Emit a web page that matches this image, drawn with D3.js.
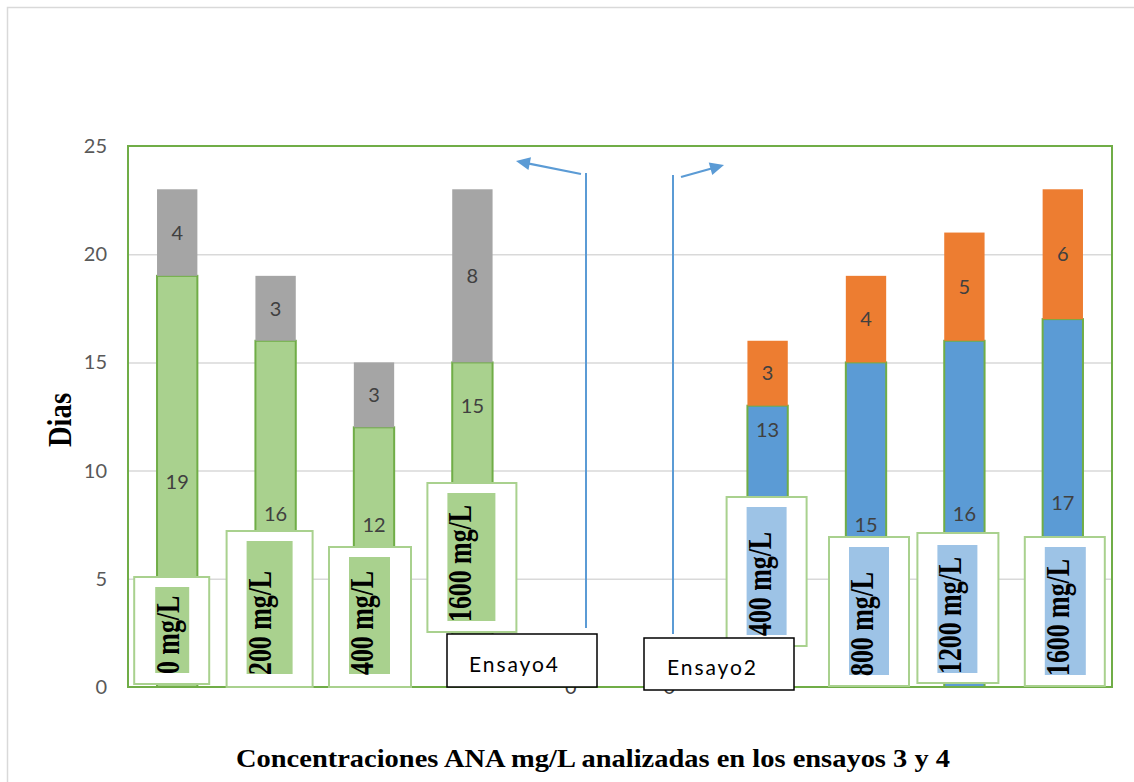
<!DOCTYPE html>
<html>
<head>
<meta charset="utf-8">
<script src="https://cdn.jsdelivr.net/npm/d3@7/dist/d3.min.js"></script>
<style>
  html, body { margin: 0; padding: 0; background: #fff; }
  svg { display: block; }
</style>
</head>
<body>
<svg id="chart" width="1134" height="782"></svg>
<script>
// ---------------- DATA ----------------
const categories = ["0 mg/L", "200 mg/L", "400 mg/L", "1600 mg/L", "gapA", "gapB",
                    "400 mg/L", "800 mg/L", "1200 mg/L", "1600 mg/L"];
const groups     = ["E3", "E3", "E3", "E3", "gap", "gap", "E4", "E4", "E4", "E4"];
const baseValues = [19, 16, 12, 15, 0, 0, 13, 15, 16, 17];
const topValues  = [4, 3, 3, 8, null, null, 3, 4, 5, 6];
const yTicks     = [0, 5, 10, 15, 20, 25];
const boxLabels  = ["0 mg/L", "200 mg/L", "400 mg/L", "1600 mg/L", null, null,
                    "400 mg/L", "800 mg/L", "1200 mg/L", "1600 mg/L"];
const annotationTexts = ["Ensayo4", "Ensayo2"];
const yTitle = "Dias";
const xTitle = "Concentraciones ANA mg/L analizadas en los ensayos  3 y 4";

// ---------------- LAYOUT (annotation placement only) ----------------
const plot = { left: 128, right: 1112, top: 146, bottom: 687 };
const boxLayout = {
  0: { ox0: -43, ox1: 32, ix0: -22, ix1: 12, oy0: 577, oy1: 684, iy0: 587, iy1: 673 },
  1: { ox0: -49, ox1: 37, ix0: -29, ix1: 17, oy0: 531, oy1: 687, iy0: 541, iy1: 674 },
  2: { ox0: -45, ox1: 37, ix0: -25, ix1: 16, oy0: 547, oy1: 687, iy0: 557, iy1: 674 },
  3: { ox0: -45, ox1: 44, ix0: -25, ix1: 23, oy0: 483, oy1: 632, iy0: 493, iy1: 621 },
  6: { ox0: -41, ox1: 39, ix0: -21, ix1: 19, oy0: 497, oy1: 646, iy0: 507, iy1: 635 },
  7: { ox0: -37, ox1: 43, ix0: -17, ix1: 23, oy0: 537, oy1: 686, iy0: 547, iy1: 675 },
  8: { ox0: -47, ox1: 34, ix0: -27, ix1: 13, oy0: 533, oy1: 683, iy0: 545, iy1: 673 },
  9: { ox0: -38, ox1: 42, ix0: -18, ix1: 23, oy0: 537, oy1: 686, iy0: 547, iy1: 675 }
};
const labelMoved = { 2: 7.5, 3: 13.0, 6: 11.9 };

const colors = {
  E3base: "#A9D18E", E3top: "#A5A5A5",
  E4base: "#5B9BD5", E4top: "#ED7D31",
  barStroke: "#70AD47", boxStroke: "#A9D18E",
  innerE3: "#A9D18E", innerE4: "#9DC3E6",
  grid: "#D9D9D9", arrow: "#5B9BD5"
};

// ---------------- SCALES ----------------
const svg = d3.select("#chart");
const x = d3.scaleBand().domain(d3.range(categories.length))
  .range([plot.left, plot.right]).paddingInner(0.59).paddingOuter(0.295);
const y = d3.scaleLinear().domain([0, 25]).range([plot.bottom, plot.top]);
const cx = i => x(i) + x.bandwidth() / 2;

// outer chart frame
svg.append("rect").attr("x", 7.5).attr("y", 7.5).attr("width", 1140).attr("height", 800)
  .attr("fill", "none").attr("stroke", "#D9D9D9").attr("stroke-width", 1.5);

// gridlines
svg.append("g")
  .attr("transform", `translate(${plot.left},0)`)
  .call(d3.axisLeft(y).tickValues(yTicks.filter(t => t > 0 && t < 25))
        .tickSize(-(plot.right - plot.left)).tickFormat(""))
  .call(g => g.select(".domain").remove())
  .call(g => g.selectAll("line").attr("stroke", colors.grid).attr("stroke-width", 1.5));

// y axis labels
svg.append("g")
  .attr("transform", `translate(${plot.left},0)`)
  .call(d3.axisLeft(y).tickValues(yTicks).tickSize(0).tickPadding(21))
  .call(g => g.select(".domain").remove())
  .call(g => g.selectAll("text").attr("fill", "#595959")
        .style("font-family", "Lato, 'Open Sans', sans-serif").style("font-size", "20px"));

// stacked bars
const rows = categories.map((c, i) => ({ i, base: baseValues[i] || 0, top: topValues[i] || 0, group: groups[i] }));
const stack = d3.stack().keys(["base", "top"])(rows);

const barsG = svg.append("g");
stack.forEach(layer => {
  barsG.selectAll(null)
    .data(layer.filter(d => d.data.group !== "gap" && d[1] > d[0]))
    .join("rect")
    .attr("x", d => x(d.data.i))
    .attr("width", x.bandwidth())
    .attr("y", d => y(d[1]))
    .attr("height", d => y(d[0]) - y(d[1]))
    .attr("fill", d => colors[d.data.group + layer.key])
    .attr("stroke", layer.key === "base" ? colors.barStroke : "none")
    .attr("stroke-width", 2);
});

// plot border
svg.append("rect")
  .attr("x", plot.left).attr("y", plot.top)
  .attr("width", plot.right - plot.left).attr("height", plot.bottom - plot.top)
  .attr("fill", "none").attr("stroke", colors.barStroke).attr("stroke-width", 2);

// value labels
const labelFont = "Lato, 'Open Sans', sans-serif";
const labG = svg.append("g").style("font-family", labelFont).style("font-size", "20px")
  .attr("fill", "#404040").attr("text-anchor", "middle");
stack.forEach(layer => {
  labG.selectAll(null)
    .data(layer.filter(d => layer.key === "base" || topValues[d.data.i] !== null))
    .join("text")
    .attr("x", d => cx(d.data.i))
    .attr("y", d => {
      if (layer.key === "base" && labelMoved[d.data.i] !== undefined) return y(labelMoved[d.data.i]);
      return y((d[0] + d[1]) / 2);
    })
    .attr("dy", "0.36em")
    .text(d => layer.key === "base" ? baseValues[d.data.i] : topValues[d.data.i]);
});

// category label boxes
const boxG = svg.append("g");
boxLabels.forEach((lab, i) => {
  if (!lab) return;
  const b = boxLayout[i];
  const c = cx(i);
  boxG.append("rect")
    .attr("x", c + b.ox0).attr("y", b.oy0)
    .attr("width", b.ox1 - b.ox0).attr("height", b.oy1 - b.oy0)
    .attr("fill", "#fff").attr("stroke", colors.boxStroke).attr("stroke-width", 2);
  boxG.append("rect")
    .attr("x", c + b.ix0).attr("y", b.iy0)
    .attr("width", b.ix1 - b.ix0).attr("height", b.iy1 - b.iy0)
    .attr("fill", groups[i] === "E3" ? colors.innerE3 : colors.innerE4);
  boxG.append("text")
    .attr("transform", `translate(${c + b.ix0 + 24},${b.iy1 + 1}) rotate(-90) scale(0.76,1)`)
    .style("font-family", "'Liberation Serif', 'Times New Roman', serif")
    .style("font-weight", "bold").style("font-size", "34px")
    .attr("fill", "#000")
    .text(lab);
});

// annotation text boxes
const annot = [
  { x0: 447, y0: 634, x1: 597, y1: 687, tx: 469, ty: 672 },
  { x0: 644, y0: 638, x1: 794, y1: 690, tx: 667, ty: 675 }
];
annot.forEach((a, k) => {
  svg.append("rect").attr("x", a.x0).attr("y", a.y0)
    .attr("width", a.x1 - a.x0).attr("height", a.y1 - a.y0)
    .attr("fill", "#fff").attr("stroke", "#000").attr("stroke-width", 1.5);
  svg.append("text").attr("x", a.tx).attr("y", a.ty)
    .attr("textLength", 89).attr("lengthAdjust", "spacing")
    .style("font-family", labelFont).style("font-size", "21px")
    .attr("fill", "#000").text(annotationTexts[k]);
});

// arrows
function arrow(x1, y1, x2, y2) {
  const dx = x2 - x1, dy = y2 - y1, len = Math.hypot(dx, dy);
  const ux = dx / len, uy = dy / len, nx = -uy, ny = ux;
  const hl = 14, hw = 6.5;
  const bx = x2 - ux * hl, by = y2 - uy * hl;
  svg.append("line").attr("x1", x1).attr("y1", y1).attr("x2", bx + ux * 2).attr("y2", by + uy * 2)
    .attr("stroke", colors.arrow).attr("stroke-width", 2.2);
  svg.append("path")
    .attr("d", `M${x2},${y2}L${bx + nx * hw},${by + ny * hw}L${bx - nx * hw},${by - ny * hw}Z`)
    .attr("fill", colors.arrow);
}
svg.append("line").attr("x1", 586).attr("y1", 173).attr("x2", 586).attr("y2", 628)
  .attr("stroke", colors.arrow).attr("stroke-width", 2);
svg.append("line").attr("x1", 673).attr("y1", 175).attr("x2", 673).attr("y2", 634)
  .attr("stroke", colors.arrow).attr("stroke-width", 2);
arrow(581, 174, 516, 161);
arrow(681, 177, 724, 165);

// axis titles
svg.append("text")
  .attr("transform", "translate(71,420) rotate(-90) scale(0.87,1)")
  .attr("text-anchor", "middle")
  .style("font-family", "'Liberation Serif', 'Times New Roman', serif")
  .style("font-weight", "bold").style("font-size", "33px")
  .attr("fill", "#000").text(yTitle);

svg.append("text")
  .attr("x", 236).attr("y", 767)
  .attr("textLength", 714).attr("lengthAdjust", "spacingAndGlyphs")
  .style("font-family", "'Liberation Serif', 'Times New Roman', serif")
  .style("font-weight", "bold").style("font-size", "26px")
  .attr("fill", "#000").text(xTitle);
</script>
</body>
</html>
